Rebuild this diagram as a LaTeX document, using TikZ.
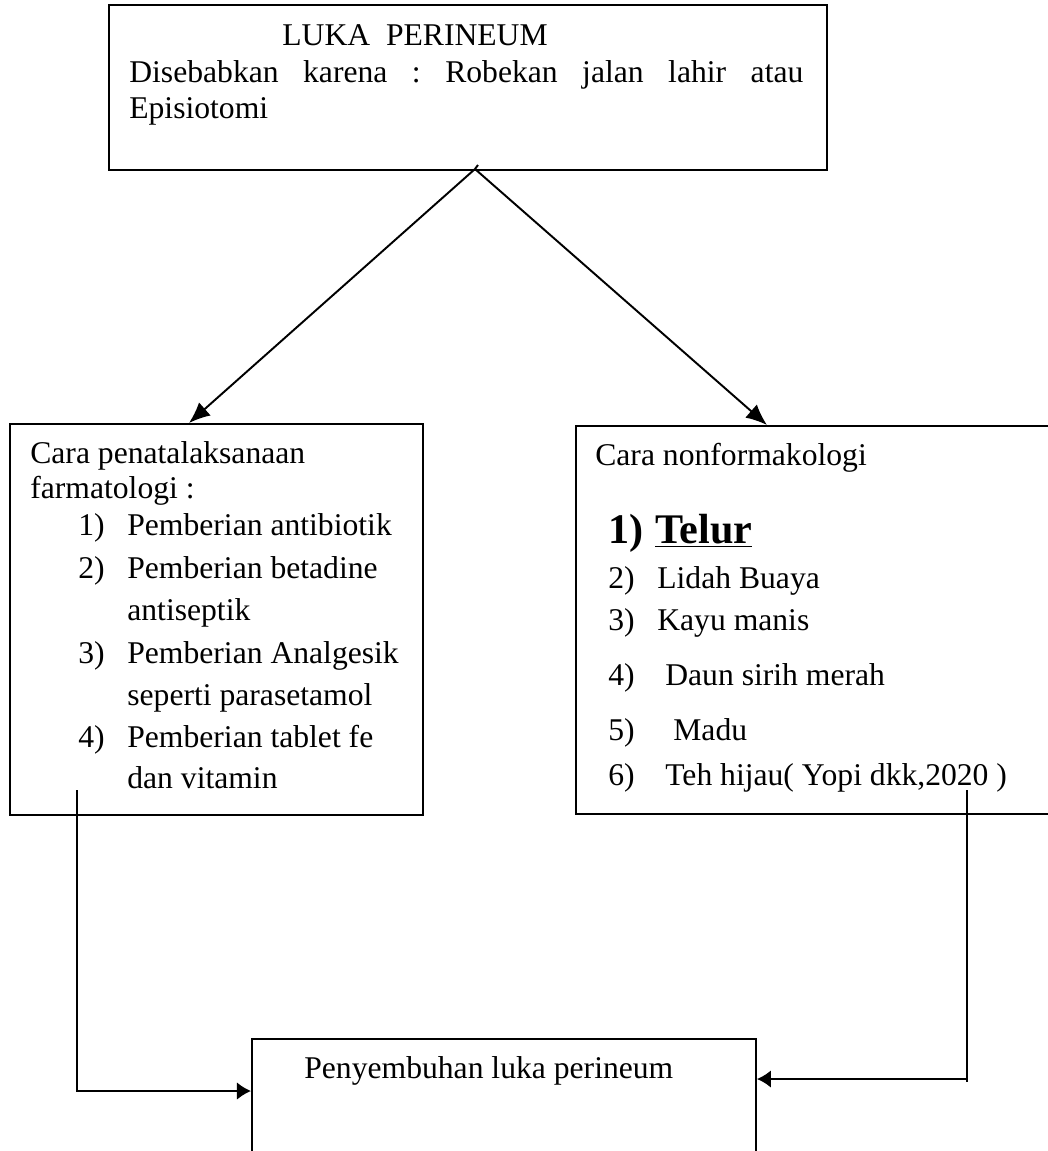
\documentclass[tikz,border=0pt]{standalone}
\usepackage{fontspec}
\setmainfont{Liberation Serif}
\usetikzlibrary{arrows.meta}
\frenchspacing

\begin{document}
\begin{tikzpicture}[
    >={Latex[length=12pt,width=10pt]},
    font=\fontsize{18}{22}\selectfont,
    box/.style={rectangle, draw=black, line width=1.1pt, inner sep=0pt},
    txt/.style={anchor=base west, inner sep=0pt},
    link/.style={line width=1.1pt},
    hook/.style={line width=1.1pt, -{Latex[length=8pt,width=10pt]}},
    big/.style={txt, font=\fontsize{24}{28}\selectfont\bfseries}
]
    \useasboundingbox (0,0) rectangle (20.96,-23.02);

    % 1. Luka perineum
    \node[box, minimum width=14.36cm, minimum height=3.30cm, anchor=north west] (luka) at (2.16,-0.08) {};
    \node[txt] (lukahdr) at (5.64,-0.90) {LUKA\ \ PERINEUM};
    \node[txt] (lukasebab) at (2.58,-1.64) {\makebox[13.48cm][s]{Disebabkan karena : Robekan jalan lahir atau}};
    \node[txt] (lukaepi) at (2.58,-2.36) {Episiotomi};
    \coordinate (split) at (9.50,-3.38);

    % 2. Farmakologi
    \node[box, minimum width=8.26cm, minimum height=7.82cm, anchor=north west] (farma) at (0.18,-8.46) {};
    \node[txt] at (0.60,-9.26) {Cara penatalaksanaan};
    \node[txt] at (0.60,-9.96) {farmatologi :};
    \node[txt] at (1.56,-10.70) {1)};
    \node[txt] at (2.54,-10.70) {Pemberian antibiotik};
    \node[txt] at (1.56,-11.56) {2)};
    \node[txt] at (2.54,-11.56) {Pemberian betadine};
    \node[txt] at (2.54,-12.40) {antiseptik};
    \node[txt] at (1.56,-13.26) {3)};
    \node[txt] at (2.54,-13.26) {Pemberian Analgesik};
    \node[txt] at (2.54,-14.10) {seperti parasetamol};
    \node[txt] at (1.56,-14.94) {4)};
    \node[txt] at (2.54,-14.94) {Pemberian tablet fe};
    \node[txt] at (2.54,-15.76) {dan vitamin};
    \coordinate (farmaout) at (1.54,-15.80);

    % 3. Nonfarmakologi
    \node[box, minimum width=9.50cm, minimum height=7.76cm, anchor=north west] (nonfarma) at (11.50,-8.50) {};
    \node[txt] at (11.90,-9.30) {Cara nonformakologi};
    \node[big] at (12.16,-10.86) {1)};
    \node[big] at (13.10,-10.86) {\underline{Telur}};
    \node[txt] at (12.16,-11.76) {2)};
    \node[txt] at (13.14,-11.76) {Lidah Buaya};
    \node[txt] at (12.16,-12.60) {3)};
    \node[txt] at (13.14,-12.60) {Kayu manis};
    \node[txt] at (12.16,-13.70) {4)};
    \node[txt] at (13.30,-13.70) {Daun sirih merah};
    \node[txt] at (12.16,-14.80) {5)};
    \node[txt] at (13.46,-14.80) {Madu};
    \node[txt] at (12.16,-15.70) {6)};
    \node[txt] at (13.30,-15.70) {Teh hijau( Yopi dkk,2020 )};
    \coordinate (nonfarmaout) at (19.34,-15.80);

    % 4. Penyembuhan
    \node[box, minimum width=10.08cm, minimum height=2.40cm, anchor=north west] (sembuh) at (5.02,-20.76) {};
    \node[txt] at (6.08,-21.56) {Penyembuhan luka perineum};

    % Arrows
    \draw[link] (9.56,-3.30) -- (split);
    \draw[link, ->] (split) -- (3.78,-8.46);
    \draw[link, ->] (split) -- (15.34,-8.50);
    \draw[hook] (farmaout) |- (sembuh.west |- 0,-21.82);
    \draw[link] (nonfarmaout) -- (19.34,-21.64);
    \draw[hook] (19.34,-21.58) -- (sembuh.east |- 0,-21.58);

\end{tikzpicture}
\end{document}
